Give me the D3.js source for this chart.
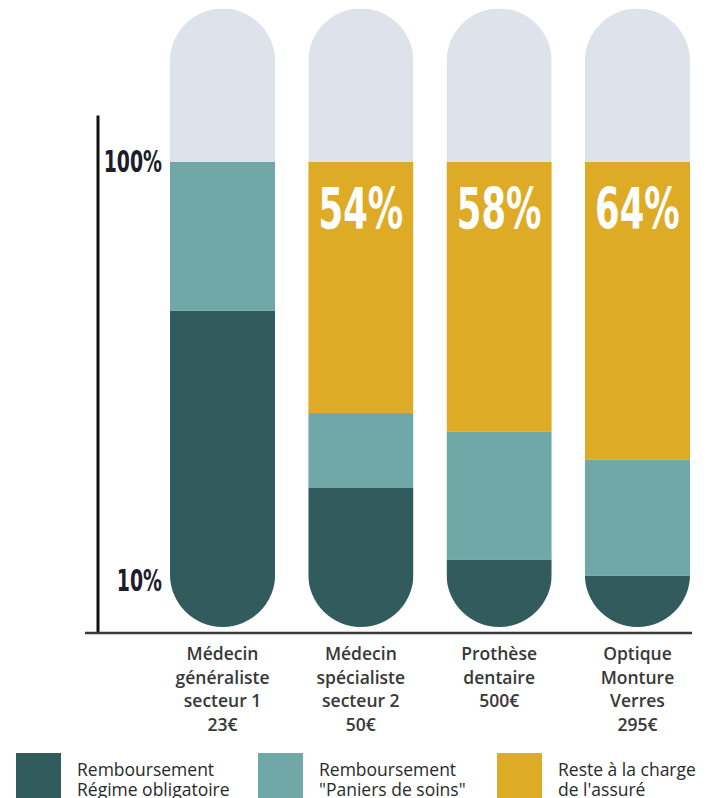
<!DOCTYPE html>
<html>
<head>
<meta charset="utf-8">
<script src="https://cdn.jsdelivr.net/npm/d3@7"></script>
<style>
  body { margin: 0; background: #fff; }
  svg { display: block; }
</style>
</head>
<body>
<div id="chart"></div>
<script>
// categories, one line per entry
const categories = [
  ["Médecin", "généraliste", "secteur 1", "23€"],
  ["Médecin", "spécialiste", "secteur 2", "50€"],
  ["Prothèse", "dentaire", "500€"],
  ["Optique", "Monture", "Verres", "295€"]
];

// shares of the cost, in %
const regimeObligatoire = [68, 30, 14.5, 11];
const paniersDeSoins    = [32, 16, 27.5, 25];
const resteACharge      = [0, 54, 58, 64];
const resteLabels       = ["", "54%", "58%", "64%"];

const tickValues = [10, 100];
const trackMax   = 133;   // grey capsule runs above 100%

const seriesKeys   = ["obligatoire", "paniers", "reste"];
const legendLabels = [
  ["Remboursement", "Régime obligatoire"],
  ["Remboursement", "\"Paniers de soins\""],
  ["Reste à la charge", "de l'assuré"]
];
const colors = { obligatoire: "#315b5d", paniers: "#6fa8a7", reste: "#deab26" };
const trackColor = "#dee2ea";

// build rows for d3.stack
const rows = categories.map((c, i) => ({
  i,
  obligatoire: regimeObligatoire[i],
  paniers: paniersDeSoins[i],
  reste: resteACharge[i]
}));
const stacked = d3.stack().keys(seriesKeys)(rows);

const width = 717, height = 798;
const svg = d3.select("#chart").append("svg")
  .attr("width", width)
  .attr("height", height);

const x = d3.scaleBand()
  .domain(d3.range(categories.length))
  .range([170, 690])
  .paddingInner(0.24)
  .paddingOuter(0);

const y = d3.scaleLinear()
  .domain([0, 100])
  .range([627, 162]);

const bw = x.bandwidth();
const condensed = "'Liberation Sans Narrow', 'DejaVu Sans Condensed', sans-serif";

// clip paths: one capsule per bar
const defs = svg.append("defs");
defs.selectAll("clipPath")
  .data(rows)
  .join("clipPath")
    .attr("id", d => "cap" + d.i)
  .append("rect")
    .attr("x", d => x(d.i))
    .attr("y", y(trackMax))
    .attr("width", bw)
    .attr("height", y(0) - y(trackMax))
    .attr("rx", bw / 2)
    .attr("ry", bw / 2);

const barG = svg.selectAll("g.bar")
  .data(rows)
  .join("g")
    .attr("class", "bar")
    .attr("clip-path", d => `url(#cap${d.i})`);

// grey track
barG.append("rect")
  .attr("x", d => x(d.i))
  .attr("y", y(trackMax))
  .attr("width", bw)
  .attr("height", y(0) - y(trackMax))
  .attr("fill", trackColor);

// stacked segments
stacked.forEach(s => {
  barG.append("rect")
    .attr("x", d => x(d.i))
    .attr("y", d => y(s[d.i][1]))
    .attr("width", bw)
    .attr("height", d => y(s[d.i][0]) - y(s[d.i][1]))
    .attr("fill", colors[s.key]);
});

// big percent labels in the yellow part
svg.selectAll("text.pct")
  .data(rows.filter(d => resteLabels[d.i]))
  .join("text")
    .attr("class", "pct")
    .attr("transform", d => `translate(${x(d.i) + bw / 2},${y(100) + 67}) scale(0.69,1)`)
    .attr("text-anchor", "middle")
    .attr("fill", "#fff")
    .style("font-family", condensed)
    .style("font-weight", "bold")
    .style("font-size", "57px")
    .text(d => resteLabels[d.i]);

// vertical axis line
svg.append("line")
  .attr("x1", 98).attr("x2", 98)
  .attr("y1", y(110)).attr("y2", y(0) + 6)
  .attr("stroke", "#111")
  .attr("stroke-width", 3);

// baseline
svg.append("line")
  .attr("x1", 85).attr("x2", 692)
  .attr("y1", y(0) + 6).attr("y2", y(0) + 6)
  .attr("stroke", "#3a3a3a")
  .attr("stroke-width", 2.5);

// tick labels
const axisG = svg.append("g")
  .attr("transform", "translate(162,0)")
  .call(d3.axisLeft(y)
    .tickValues(tickValues)
    .tickSize(0)
    .tickPadding(0)
    .tickFormat(d => d + "%"));
axisG.select(".domain").remove();
axisG.selectAll("text")
  .attr("transform", "scale(0.7,1)")
  .attr("fill", "#1c1c2c")
  .style("font-family", condensed)
  .style("font-weight", "bold")
  .style("font-size", "30px");

// category labels
const catText = svg.selectAll("text.cat")
  .data(rows)
  .join("text")
    .attr("class", "cat")
    .attr("text-anchor", "middle")
    .attr("fill", "#383838")
    .style("font-family", "'Open Sans', sans-serif")
    .style("font-weight", 600)
    .style("font-size", "17.5px");
catText.selectAll("tspan")
  .data(d => categories[d.i].map(t => ({ t, i: d.i })))
  .join("tspan")
    .attr("x", d => x(d.i) + bw / 2)
    .attr("y", (d, j) => 660 + j * 23.5)
    .text(d => d.t);

// legend
const legendX = [16, 258, 497];
const legend = svg.selectAll("g.legend")
  .data(seriesKeys)
  .join("g")
    .attr("class", "legend")
    .attr("transform", (d, i) => `translate(${legendX[i]},753)`);
legend.append("rect")
  .attr("width", 45)
  .attr("height", 46)
  .attr("fill", d => colors[d]);
legend.append("text")
  .attr("fill", "#2a2a2a")
  .style("font-family", "'Open Sans', sans-serif")
  .style("font-size", "17.5px")
  .selectAll("tspan")
  .data((d, i) => legendLabels[i])
  .join("tspan")
    .attr("x", 61)
    .attr("y", (d, j) => 23 + j * 20)
    .text(d => d);
</script>
</body>
</html>
